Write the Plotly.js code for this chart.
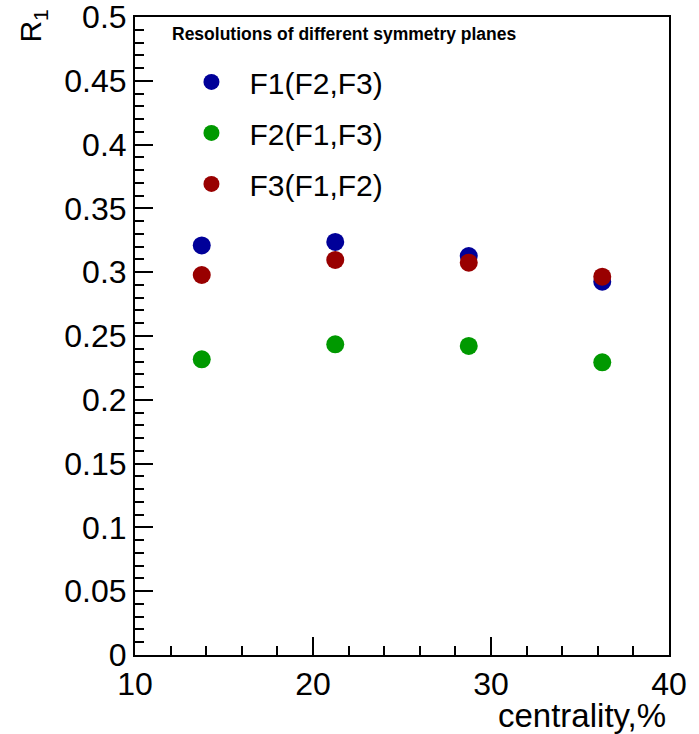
<!DOCTYPE html>
<html>
<head>
<meta charset="utf-8">
<script src="https://cdn.plot.ly/plotly-3.0.1.min.js"></script>
<style>
  html, body { margin: 0; padding: 0; background: #ffffff; }
  #chart { width: 699px; height: 734px; }
</style>
</head>
<body>
<div id="chart"></div>
<script>
// Centrality bin centres (%) and event-plane resolution R1 for each sub-event set
var centrality = [13.75, 21.25, 28.75, 36.25];
var r1F1 = [0.321, 0.3237, 0.3127, 0.2926];
var r1F2 = [0.2317, 0.2435, 0.2422, 0.2294];
var r1F3 = [0.2978, 0.3096, 0.3075, 0.2965];
var seriesNames = ['F1(F2,F3)', 'F2(F1,F3)', 'F3(F1,F2)'];
var seriesColors = ['#000099', '#009900', '#990000'];

var yTickValues = [0, 0.05, 0.1, 0.15, 0.2, 0.25, 0.3, 0.35, 0.4, 0.45, 0.5];
var yTickLabels = ['0', '0.05', '0.1', '0.15', '0.2', '0.25', '0.3', '0.35', '0.4', '0.45', '0.5'];
var xTickValues = [10, 20, 30, 40];
var xTickLabels = ['10', '20', '30', '40'];

var FONT = 'Liberation Sans, Arial, Helvetica, sans-serif';

var seriesValues = [r1F1, r1F2, r1F3];
var traces = seriesValues.map(function (vals, i) {
  return {
    type: 'scatter',
    mode: 'markers',
    x: centrality,
    y: vals,
    name: seriesNames[i],
    legendgroup: 'g' + i,
    marker: { symbol: 'circle', size: 18, color: seriesColors[i] },
    hoverinfo: 'x+y+name'
  };
});

var axisCommon = {
  showgrid: false,
  zeroline: false,
  showline: true,
  linecolor: '#000000',
  linewidth: 2,
  mirror: true,
  ticks: 'inside',
  tickcolor: '#000000',
  tickwidth: 2,
  ticklen: 18,
  tickfont: { family: FONT, size: 32, color: '#000000' },
  ticklabeloverflow: 'allow',
  tickmode: 'array'
};

var layout = {
  width: 699,
  height: 734,
  paper_bgcolor: '#ffffff',
  plot_bgcolor: '#ffffff',
  margin: { l: 135, r: 30, t: 17, b: 79, pad: 0 },
  showlegend: true,
  legend: {
    x: 0.072, y: 0.939, xanchor: 'left', yanchor: 'top',
    bgcolor: 'rgba(0,0,0,0)',
    font: { family: FONT, size: 30, color: '#000000' },
    itemwidth: 66,
    tracegroupgap: 9,
    itemsizing: 'trace'
  },
  xaxis: Object.assign({}, axisCommon, {
    range: [10, 40],
    tickvals: xTickValues,
    ticktext: xTickLabels,
    minor: { dtick: 2, tick0: 10, ticks: 'inside', ticklen: 9, tickwidth: 2, tickcolor: '#000000', showgrid: false }
  }),
  yaxis: Object.assign({}, axisCommon, {
    range: [0, 0.5],
    tickvals: yTickValues,
    ticktext: yTickLabels,
    minor: { dtick: 0.01, tick0: 0, ticks: 'inside', ticklen: 9, tickwidth: 2, tickcolor: '#000000', showgrid: false }
  }),
  annotations: [
    {
      text: '<b>Resolutions of different symmetry planes</b>',
      xref: 'paper', yref: 'paper',
      x: 0.066, y: 0.973, xanchor: 'left', yanchor: 'middle',
      showarrow: false,
      font: { family: FONT, size: 17.5, color: '#000000' }
    },
    {
      text: 'R<sub>1</sub>',
      xref: 'paper', yref: 'paper',
      x: -0.191, y: 0.985, xanchor: 'center', yanchor: 'middle',
      textangle: -90,
      showarrow: false,
      font: { family: FONT, size: 30, color: '#000000' }
    },
    {
      text: 'centrality,%',
      xref: 'paper', yref: 'paper',
      x: 0.998, y: -0.0956, xanchor: 'right', yanchor: 'middle',
      showarrow: false,
      font: { family: FONT, size: 33, color: '#000000' }
    }
  ]
};

Plotly.newPlot('chart', traces, layout, { displayModeBar: false, staticPlot: true });
</script>
</body>
</html>
